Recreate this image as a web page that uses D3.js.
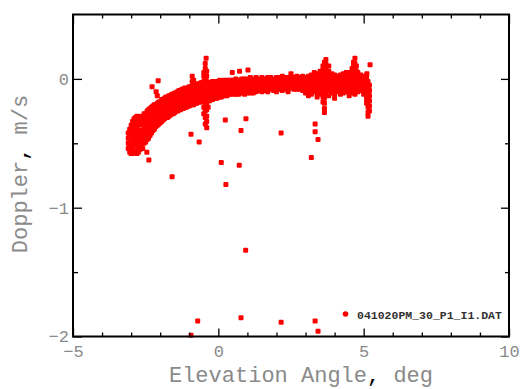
<!DOCTYPE html>
<html>
<head>
<meta charset="utf-8">
<script src="https://cdn.jsdelivr.net/npm/d3@7"></script>
<style>
  body { margin: 0; background: #fff; }
  svg { display: block; }
</style>
</head>
<body>
<div id="chart"></div>
<script>
// Dense band: each entry is [elevation, [doppler values at that elevation]]
const bandColumns = [
  [-3.10, [-0.42, -0.46, -0.50, -0.54]],
  [-3.05, [-0.39, -0.45, -0.52, -0.57]],
  [-3.00, [-0.36, -0.41, -0.47, -0.53, -0.58]],
  [-2.95, [-0.33, -0.38, -0.44, -0.50, -0.55, -0.58]],
  [-2.90, [-0.31, -0.36, -0.42, -0.47, -0.52, -0.57]],
  [-2.85, [-0.30, -0.35, -0.40, -0.46, -0.51, -0.56]],
  [-2.80, [-0.29, -0.34, -0.39, -0.45, -0.50, -0.58]],
  [-2.75, [-0.31, -0.36, -0.42, -0.48, -0.53, -0.57]],
  [-2.70, [-0.30, -0.34, -0.40, -0.45, -0.51, -0.55]],
  [-2.65, [-0.29, -0.35, -0.41, -0.47, -0.52]],
  [-2.60, [-0.31, -0.36, -0.42, -0.48, -0.54]],
  [-2.55, [-0.27, -0.33, -0.39, -0.45, -0.50]],
  [-2.50, [-0.27, -0.32, -0.37, -0.43, -0.49]],
  [-2.45, [-0.25, -0.30, -0.36, -0.42, -0.47]],
  [-2.40, [-0.24, -0.29, -0.34, -0.40, -0.46]],
  [-2.35, [-0.23, -0.28, -0.33, -0.38, -0.44]],
  [-2.30, [-0.22, -0.27, -0.32, -0.37, -0.42]],
  [-2.25, [-0.21, -0.26, -0.31, -0.36, -0.40]],
  [-2.20, [-0.20, -0.25, -0.30, -0.35, -0.39]],
  [-2.15, [-0.20, -0.24, -0.29, -0.33, -0.37]],
  [-2.10, [-0.19, -0.23, -0.28, -0.32, -0.36]],
  [-2.05, [-0.18, -0.22, -0.27, -0.31, -0.35]],
  [-2.00, [-0.18, -0.22, -0.26, -0.30, -0.34]],
  [-1.95, [-0.16, -0.20, -0.25, -0.29, -0.33]],
  [-1.90, [-0.16, -0.20, -0.24, -0.28, -0.32]],
  [-1.85, [-0.15, -0.19, -0.23, -0.27, -0.31]],
  [-1.80, [-0.14, -0.18, -0.22, -0.26, -0.30]],
  [-1.75, [-0.15, -0.19, -0.23, -0.27, -0.30]],
  [-1.70, [-0.13, -0.17, -0.21, -0.25, -0.29]],
  [-1.65, [-0.13, -0.17, -0.21, -0.24, -0.28]],
  [-1.60, [-0.12, -0.16, -0.20, -0.24, -0.27]],
  [-1.55, [-0.12, -0.16, -0.19, -0.23, -0.27]],
  [-1.50, [-0.11, -0.15, -0.19, -0.23, -0.26]],
  [-1.45, [-0.11, -0.14, -0.18, -0.22, -0.25]],
  [-1.40, [-0.10, -0.14, -0.18, -0.21, -0.25]],
  [-1.35, [-0.09, -0.13, -0.17, -0.21, -0.24]],
  [-1.30, [-0.09, -0.13, -0.16, -0.20, -0.24]],
  [-1.25, [-0.08, -0.12, -0.16, -0.20, -0.23]],
  [-1.20, [-0.08, -0.12, -0.15, -0.19, -0.23]],
  [-1.15, [-0.07, -0.11, -0.15, -0.19, -0.22]],
  [-1.10, [-0.08, -0.11, -0.15, -0.18, -0.22]],
  [-1.05, [-0.07, -0.10, -0.14, -0.18, -0.21]],
  [-1.00, [-0.06, -0.10, -0.14, -0.17, -0.21]],
  [-0.95, [-0.06, -0.10, -0.13, -0.17, -0.20]],
  [-0.90, [0.02, -0.02, -0.06, -0.10, -0.13, -0.17, -0.20]],
  [-0.85, [-0.01, -0.05, -0.09, -0.13, -0.16, -0.20]],
  [-0.80, [-0.05, -0.09, -0.12, -0.16, -0.19]],
  [-0.75, [-0.04, -0.08, -0.12, -0.16, -0.19]],
  [-0.70, [-0.04, -0.08, -0.11, -0.15, -0.18]],
  [-0.65, [-0.04, -0.07, -0.11, -0.15, -0.18]],
  [-0.60, [-0.03, -0.07, -0.11, -0.14, -0.18]],
  [-0.55, [-0.03, -0.07, -0.10, -0.14, -0.17]],
  [-0.50, [0.05, 0.02, -0.02, -0.06, -0.10, -0.14, -0.17, -0.22, -0.27]],
  [-0.45, [0.12, 0.08, 0.04, 0.00, -0.04, -0.08, -0.12, -0.16, -0.20, -0.25, -0.30, -0.35]],
  [-0.40, [0.06, 0.02, -0.02, -0.06, -0.10, -0.14, -0.19, -0.24, -0.29, -0.33, -0.38]],
  [-0.35, [-0.03, -0.07, -0.10, -0.14, -0.17, -0.22]],
  [-0.30, [-0.03, -0.06, -0.10, -0.13, -0.17]],
  [-0.25, [-0.03, -0.06, -0.10, -0.13, -0.16]],
  [-0.20, [-0.02, -0.06, -0.09, -0.13, -0.16]],
  [-0.15, [-0.03, -0.06, -0.09, -0.12, -0.15]],
  [-0.10, [-0.02, -0.05, -0.09, -0.12, -0.15]],
  [-0.05, [-0.02, -0.05, -0.08, -0.12, -0.15]],
  [0.00, [-0.02, -0.05, -0.08, -0.11, -0.14]],
  [0.05, [-0.01, -0.05, -0.08, -0.11, -0.14]],
  [0.10, [-0.02, -0.05, -0.08, -0.11, -0.14]],
  [0.15, [-0.02, -0.05, -0.08, -0.11, -0.13]],
  [0.20, [-0.01, -0.04, -0.07, -0.10, -0.13]],
  [0.30, [-0.01, -0.04, -0.07, -0.10, -0.13]],
  [0.40, [-0.01, -0.04, -0.07, -0.10, -0.12]],
  [0.50, [-0.01, -0.04, -0.07, -0.10, -0.12]],
  [0.60, [0.00, -0.03, -0.06, -0.09, -0.12]],
  [0.70, [-0.01, -0.04, -0.07, -0.10, -0.12]],
  [0.80, [0.00, -0.03, -0.06, -0.09, -0.11]],
  [0.90, [0.00, -0.03, -0.06, -0.09, -0.12]],
  [1.00, [0.00, -0.03, -0.06, -0.09, -0.11]],
  [1.10, [0.01, -0.02, -0.05, -0.08, -0.11]],
  [1.20, [0.00, -0.03, -0.06, -0.09, -0.11]],
  [1.30, [0.01, -0.02, -0.05, -0.08, -0.10]],
  [1.40, [0.00, -0.03, -0.06, -0.09]],
  [1.50, [0.01, -0.02, -0.05, -0.08, -0.10]],
  [1.60, [0.00, -0.03, -0.06, -0.09]],
  [1.70, [0.01, -0.02, -0.05, -0.08, -0.10]],
  [1.80, [0.01, -0.02, -0.05, -0.08]],
  [1.90, [0.00, -0.03, -0.06, -0.09]],
  [2.00, [0.01, -0.02, -0.05, -0.08, -0.10]],
  [2.10, [0.01, -0.02, -0.05, -0.08]],
  [2.20, [0.02, -0.01, -0.04, -0.07, -0.09]],
  [2.30, [0.01, -0.02, -0.05, -0.08]],
  [2.40, [0.01, -0.02, -0.05, -0.08, -0.10]],
  [2.50, [0.04, 0.02, -0.01, -0.04, -0.07]],
  [2.60, [0.01, -0.02, -0.05, -0.08]],
  [2.70, [0.02, -0.01, -0.04, -0.07, -0.08]],
  [2.80, [0.01, -0.02, -0.05, -0.08]],
  [2.90, [0.02, -0.01, -0.04, -0.07, -0.09]],
  [3.00, [0.01, -0.02, -0.05, -0.08, -0.11]],
  [3.10, [0.02, -0.01, -0.04, -0.07, -0.10, -0.13]],
  [3.20, [0.03, 0.00, -0.03, -0.06, -0.09, -0.12]],
  [3.30, [0.05, 0.02, -0.01, -0.04, -0.07, -0.10]],
  [3.40, [0.04, 0.01, -0.02, -0.05, -0.08, -0.11, -0.14]],
  [3.50, [0.06, 0.03, 0.00, -0.03, -0.06, -0.09, -0.12]],
  [3.60, [0.10, 0.07, 0.04, 0.01, -0.02, -0.05, -0.08, -0.11, -0.14, -0.18]],
  [3.65, [0.13, 0.09, 0.05, 0.01, -0.03, -0.07, -0.11, -0.15, -0.19, -0.23, -0.26]],
  [3.70, [0.15, 0.12, 0.08, 0.04, 0.00, -0.04, -0.08, -0.12]],
  [3.80, [0.10, 0.06, 0.03, 0.00, -0.03, -0.06, -0.09, -0.13]],
  [3.90, [0.04, 0.01, -0.02, -0.05, -0.08, -0.11]],
  [4.00, [0.03, 0.00, -0.03, -0.06, -0.09, -0.12, -0.15]],
  [4.10, [0.02, -0.01, -0.04, -0.07, -0.10]],
  [4.20, [0.03, 0.00, -0.03, -0.06, -0.09, -0.12]],
  [4.30, [0.04, 0.01, -0.02, -0.05, -0.08, -0.11]],
  [4.40, [0.05, 0.02, -0.01, -0.04, -0.07, -0.10]],
  [4.50, [0.05, 0.02, -0.01, -0.04, -0.07, -0.10, -0.13]],
  [4.60, [0.08, 0.04, 0.01, -0.02, -0.05, -0.08, -0.11]],
  [4.65, [0.13, 0.10, 0.06, 0.02, -0.02, -0.06, -0.10]],
  [4.70, [0.16, 0.12, 0.08, 0.04, 0.00, -0.04, -0.08, -0.12]],
  [4.75, [0.10, 0.06, 0.02, -0.02, -0.06, -0.10]],
  [4.80, [0.05, 0.02, -0.01, -0.04, -0.07, -0.10]],
  [4.90, [0.03, 0.00, -0.03, -0.06, -0.09]],
  [5.00, [0.02, -0.01, -0.04, -0.07, -0.10, -0.12]],
  [5.10, [0.02, -0.01, -0.04, -0.07, -0.10, -0.13, -0.16, -0.19]],
  [5.15, [-0.02, -0.06, -0.10, -0.14, -0.18, -0.22, -0.26, -0.29]],
  [5.20, [-0.05, -0.09, -0.13, -0.17, -0.21, -0.25]]
];

// Scattered points away from the band
const outlierElev = [-0.42, -2.07, -2.28, -2.14, -2.10, 0.24, 0.95, 0.78, -0.94, -0.66,
  -2.46, -2.39, 0.10, 0.72, -1.59, 0.26, 0.73, 0.48, 1.02, 5.22, 5.11, 3.33, 3.33, 3.43,
  2.16, 3.20, 0.94, -0.71, 0.78, -0.94, 2.16, 3.33, 3.43];
const outlierDoppler = [0.16, -0.015, -0.06, -0.10, -0.13, -0.32, -0.31, -0.40, -0.43, -0.49,
  -0.57, -0.63, -0.65, -0.67, -0.76, -0.82, 0.06, 0.05, 0.07, 0.11, 0.04, -0.35, -0.41, -0.47,
  -0.42, -0.61, -1.33, -1.88, -1.855, -1.99, -1.89, -1.88, -1.96];

const xMajorTicks = [-5, 0, 5, 10];
const xMinorTicks = [-4, -3, -2, -1, 1, 2, 3, 4, 6, 7, 8, 9];
const yMajorTicks = [-2, -1, 0];
const yMinorTicks = [-1.5, -0.5];
const legendLabel = "041020PM_30_P1_I1.DAT";

const width = 521, height = 389;
const plotLeft = 73, plotRight = 509, plotTop = 14.5, plotBottom = 336.5;
const textGrey = "#8a8a8a";
const red = "#ff0000";
const mono = "'Liberation Mono', 'DejaVu Sans Mono', monospace";

const points = [];
bandColumns.forEach(([e, ds]) => ds.forEach(d => points.push([e, d])));
outlierElev.forEach((e, i) => points.push([e, outlierDoppler[i]]));

const x = d3.scaleLinear().domain([-5, 10]).range([plotLeft, plotRight]);
const y = d3.scaleLinear().domain([-2, 0.5]).range([plotBottom, plotTop]);

const svg = d3.select("#chart").append("svg")
  .attr("width", width)
  .attr("height", height);

// points
const ms = 5;
svg.append("g")
  .selectAll("rect")
  .data(points)
  .enter()
  .append("rect")
  .attr("x", d => x(d[0]) - ms / 2)
  .attr("y", d => y(d[1]) - ms / 2)
  .attr("width", ms)
  .attr("height", ms)
  .attr("rx", 1)
  .attr("fill", red);

// axes with inward ticks
function styleAxis(g) {
  g.select(".domain").remove();
  g.selectAll(".tick line").attr("stroke", "#000").attr("stroke-width", 1.3);
  g.selectAll(".tick text")
    .attr("fill", textGrey)
    .style("font-family", mono)
    .style("font-size", "17px");
}

svg.append("g")
  .attr("transform", `translate(0,${plotBottom})`)
  .call(d3.axisBottom(x).tickValues(xMajorTicks).tickSizeInner(-8).tickSizeOuter(0).tickPadding(8).tickFormat(d3.format("d")))
  .call(styleAxis);
svg.append("g")
  .attr("transform", `translate(0,${plotBottom})`)
  .call(d3.axisBottom(x).tickValues(xMinorTicks).tickSizeInner(-4).tickSizeOuter(0).tickFormat(""))
  .call(styleAxis);
svg.append("g")
  .attr("transform", `translate(0,${plotTop})`)
  .call(d3.axisTop(x).tickValues(xMajorTicks).tickSizeInner(-9).tickSizeOuter(0).tickFormat(""))
  .call(styleAxis);
svg.append("g")
  .attr("transform", `translate(0,${plotTop})`)
  .call(d3.axisTop(x).tickValues(xMinorTicks).tickSizeInner(-4).tickSizeOuter(0).tickFormat(""))
  .call(styleAxis);

svg.append("g")
  .attr("transform", `translate(${plotLeft},0)`)
  .call(d3.axisLeft(y).tickValues(yMajorTicks).tickSizeInner(-9).tickSizeOuter(0).tickPadding(4).tickFormat(d3.format("d")))
  .call(styleAxis);
svg.append("g")
  .attr("transform", `translate(${plotLeft},0)`)
  .call(d3.axisLeft(y).tickValues(yMinorTicks).tickSizeInner(-5).tickSizeOuter(0).tickFormat(""))
  .call(styleAxis);
svg.append("g")
  .attr("transform", `translate(${plotRight},0)`)
  .call(d3.axisRight(y).tickValues(yMajorTicks).tickSizeInner(-8).tickSizeOuter(0).tickFormat(""))
  .call(styleAxis);
svg.append("g")
  .attr("transform", `translate(${plotRight},0)`)
  .call(d3.axisRight(y).tickValues(yMinorTicks).tickSizeInner(-4).tickSizeOuter(0).tickFormat(""))
  .call(styleAxis);

// frame
svg.append("rect")
  .attr("x", plotLeft)
  .attr("y", plotTop)
  .attr("width", plotRight - plotLeft)
  .attr("height", plotBottom - plotTop)
  .attr("fill", "none")
  .attr("stroke", "#000")
  .attr("stroke-width", 2);

// axis titles
const xTitle = svg.append("text")
  .attr("x", 301)
  .attr("y", 382)
  .attr("text-anchor", "middle")
  .attr("fill", textGrey)
  .style("font-family", mono)
  .style("font-size", "22px");
xTitle.append("tspan").text("Elevation Angle");
xTitle.append("tspan").attr("fill", "#000").text(",");
xTitle.append("tspan").text(" deg");

const yTitle = svg.append("text")
  .attr("transform", `translate(27,174) rotate(-90)`)
  .attr("text-anchor", "middle")
  .attr("fill", textGrey)
  .style("font-family", mono)
  .style("font-size", "22px");
yTitle.append("tspan").text("Doppler");
yTitle.append("tspan").attr("fill", "#000").text(",");
yTitle.append("tspan").text(" m/s");

// legend
svg.append("circle")
  .attr("cx", 345.5)
  .attr("cy", 314)
  .attr("r", 2.8)
  .attr("fill", red);
svg.append("text")
  .attr("x", 357)
  .attr("y", 318.5)
  .attr("fill", "#333")
  .style("font-family", mono)
  .style("font-size", "11.5px")
  .style("font-weight", "bold")
  .text(legendLabel);
</script>
</body>
</html>
